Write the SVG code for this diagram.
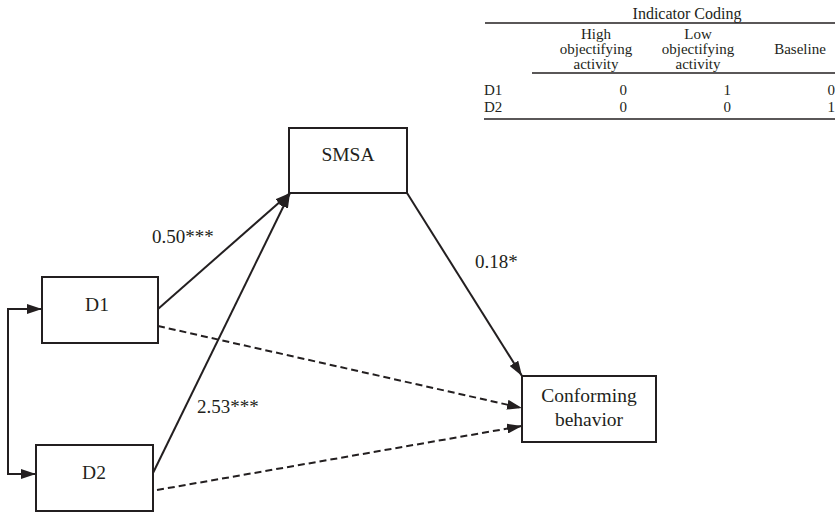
<svg xmlns="http://www.w3.org/2000/svg" width="835" height="513" viewBox="0 0 835 513" font-family="'Liberation Serif', 'Times New Roman', Times, serif">
<style>
  text { font-family: 'Liberation Serif', 'Times New Roman', Times, serif; fill: #231f20; }
  .tbl { font-size: 15px; }
  .ttl { font-size: 16px; text-anchor: middle; }
  .node { font-size: 19.5px; text-anchor: middle; }
  .lbl { font-size: 19px; }
  .box { fill: #fff; stroke: #231f20; stroke-width: 2; }
  .rule { stroke: #231f20; stroke-width: 1.5; }
  .c { fill: none; stroke: #231f20; stroke-width: 2; }
  .dash { stroke-dasharray: 7 4; }
</style>
<defs>
  <marker id="ah" markerUnits="userSpaceOnUse" markerWidth="15" markerHeight="10" refX="15" refY="5" orient="auto">
    <path d="M0,0 L15,5 L0,10 Z" fill="#231f20"/>
  </marker>
  <marker id="ahs" markerUnits="userSpaceOnUse" markerWidth="15" markerHeight="10" refX="0" refY="5" orient="auto">
    <path d="M15,0 L0,5 L15,10 Z" fill="#231f20"/>
  </marker>
</defs>
<rect width="835" height="513" fill="#fff"/>

<g id="table">
  <text class="ttl" x="687" y="19">Indicator Coding</text>
  <line class="rule" x1="485" y1="23" x2="835" y2="23"/>
  <text class="tbl" text-anchor="middle" x="596" y="39"><tspan x="596" y="39">High</tspan><tspan x="596" y="54">objectifying</tspan><tspan x="596" y="69">activity</tspan></text>
  <text class="tbl" text-anchor="middle" x="698" y="39"><tspan x="698" y="39">Low</tspan><tspan x="698" y="54">objectifying</tspan><tspan x="698" y="69">activity</tspan></text>
  <text class="tbl" x="800" y="54" text-anchor="middle">Baseline</text>
  <line class="rule" x1="532" y1="73" x2="835" y2="73"/>
  <text class="tbl" x="484" y="95">D1</text>
  <text class="tbl" x="627" y="95" text-anchor="end">0</text>
  <text class="tbl" x="731" y="95" text-anchor="end">1</text>
  <text class="tbl" x="835" y="95" text-anchor="end">0</text>
  <text class="tbl" x="484" y="112">D2</text>
  <text class="tbl" x="627" y="112" text-anchor="end">0</text>
  <text class="tbl" x="731" y="112" text-anchor="end">0</text>
  <text class="tbl" x="835" y="112" text-anchor="end">1</text>
  <line class="rule" x1="484" y1="119" x2="835" y2="119"/>
</g>

<g id="connectors">
  <line class="c" x1="158" y1="309" x2="290" y2="193" marker-end="url(#ah)"/>
  <line class="c" x1="153" y1="473" x2="290" y2="193" marker-end="url(#ah)"/>
  <line class="c" x1="407" y1="193" x2="522" y2="376" marker-end="url(#ah)"/>
  <line class="c dash" x1="158" y1="326" x2="522" y2="408" marker-end="url(#ah)"/>
  <line class="c dash" x1="157" y1="490" x2="522" y2="426" marker-end="url(#ah)"/>
  <path class="c" d="M42,309 L8,309 L8,474 L36,474" marker-start="url(#ahs)" marker-end="url(#ah)"/>
  <text class="lbl" x="152" y="243">0.50***</text>
  <text class="lbl" x="475" y="268">0.18*</text>
  <text class="lbl" x="197" y="413">2.53***</text>
</g>

<g id="smsa">
  <rect class="box" x="289" y="128" width="118" height="65"/>
  <text class="node" x="348" y="161">SMSA</text>
</g>
<g id="d1">
  <rect class="box" x="42" y="277" width="116" height="66"/>
  <text class="node" x="97" y="311">D1</text>
</g>
<g id="d2">
  <rect class="box" x="36" y="445" width="117" height="66"/>
  <text class="node" x="94" y="479">D2</text>
</g>
<g id="conforming">
  <rect class="box" x="522" y="376" width="134" height="66"/>
  <text class="node" x="589" y="402">Conforming</text>
  <text class="node" x="589" y="426">behavior</text>
</g>
</svg>
